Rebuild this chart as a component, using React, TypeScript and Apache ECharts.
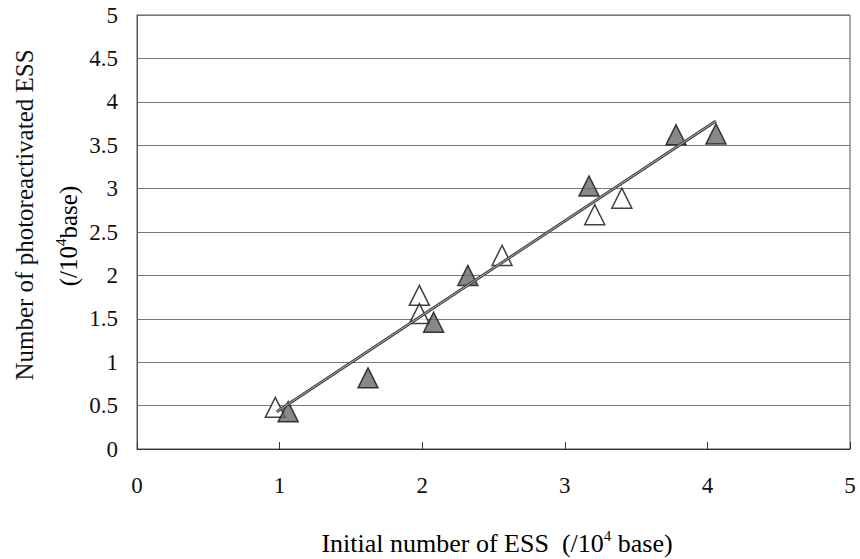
import React, { useEffect, useRef } from "react";
import * as echarts from "echarts";

const openX = [0.97, 1.98, 1.98, 2.56, 3.21, 3.4];
const openY = [0.48, 1.77, 1.56, 2.23, 2.7, 2.89];
const filledX = [1.06, 1.62, 2.08, 2.32, 3.17, 3.78, 4.06];
const filledY = [0.43, 0.82, 1.46, 2.0, 3.03, 3.62, 3.63];
const fitX = [0.98, 4.06];
const fitY = [0.43, 3.78];

const xTitle = ["Initial number of ESS  (/10", "4", " base)"];
const yTitle1 = "Number of photoreactivated ESS";
const yTitle2 = ["(/10", "4", "base)"];

const FONT = "'Liberation Serif', 'Times New Roman', serif";

const zip = (xs: number[], ys: number[]) => xs.map((x, i) => [x, ys[i]]);

export default function App() {
  const ref = useRef<HTMLDivElement>(null);
  useEffect(() => {
    if (!ref.current) return;
    const chart = echarts.init(ref.current, null, { renderer: "svg" });
    const richX = {
      a: { fontSize: 26, fontFamily: FONT, lineHeight: 30, color: "#111" },
      sup: { fontSize: 15, fontFamily: FONT, lineHeight: 16, verticalAlign: "top", color: "#111" },
    };
    const richY = {
      a: { fontSize: 25, fontFamily: FONT, lineHeight: 29, color: "#111" },
      sup: { fontSize: 15, fontFamily: FONT, lineHeight: 16, verticalAlign: "top", color: "#111" },
    };
    chart.setOption({
      animation: false,
      backgroundColor: "#fff",
      grid: {
        left: 137,
        right: 10,
        top: 15,
        bottom: 110,
        show: true,
        borderColor: "#555",
        borderWidth: 1,
        backgroundColor: "transparent",
      },
      xAxis: {
        type: "value",
        min: 0,
        max: 5,
        interval: 1,
        axisLine: { show: true, lineStyle: { color: "#333", width: 1 } },
        axisTick: { show: true, inside: true, length: 7, lineStyle: { color: "#333" } },
        splitLine: { show: false },
        axisLabel: { fontSize: 23, fontFamily: FONT, color: "#111", margin: 25 },
      },
      yAxis: {
        type: "value",
        min: 0,
        max: 5,
        interval: 0.5,
        axisLine: { show: true, lineStyle: { color: "#555" } },
        axisTick: { show: false },
        splitLine: { show: true, lineStyle: { color: "#777", width: 1 } },
        axisLabel: { fontSize: 23, fontFamily: FONT, color: "#111", margin: 19 },
      },
      graphic: [
        {
          type: "text",
          x: 497,
          y: 543,
          style: {
            text: `{a|${xTitle[0]}}{sup|${xTitle[1]}}{a|${xTitle[2]}}`,
            rich: richX,
            align: "center",
            verticalAlign: "middle",
          },
        },
        {
          type: "text",
          x: 24,
          y: 215,
          rotation: Math.PI / 2,
          style: {
            text: yTitle1,
            fontSize: 25,
            fontFamily: FONT,
            fill: "#111",
            align: "center",
            verticalAlign: "middle",
          },
        },
        {
          type: "text",
          x: 68,
          y: 236,
          rotation: Math.PI / 2,
          style: {
            text: `{a|${yTitle2[0]}}{sup|${yTitle2[1]}}{a|${yTitle2[2]}}`,
            rich: richY,
            align: "center",
            verticalAlign: "middle",
          },
        },
      ],
      series: [
        {
          type: "scatter",
          data: zip(openX, openY),
          symbol: "triangle",
          symbolSize: 20,
          itemStyle: { color: "#fff", borderColor: "#111", borderWidth: 1.5 },
          z: 3,
        },
        {
          type: "scatter",
          data: zip(filledX, filledY),
          symbol: "triangle",
          symbolSize: 20,
          itemStyle: { color: "#6a6a6a", borderColor: "#111", borderWidth: 1.5 },
          z: 4,
        },
        {
          type: "line",
          data: zip(fitX, fitY),
          symbol: "none",
          lineStyle: { color: "#444", width: 3 },
          z: 5,
        },
        {
          type: "line",
          data: zip(fitX, fitY),
          symbol: "none",
          lineStyle: { color: "#aaa", width: 1 },
          z: 6,
        },
      ],
    });
    return () => chart.dispose();
  }, []);
  return <div ref={ref} style={{ width: 860, height: 559, position: "absolute", left: 0, top: 0 }} />;
}
